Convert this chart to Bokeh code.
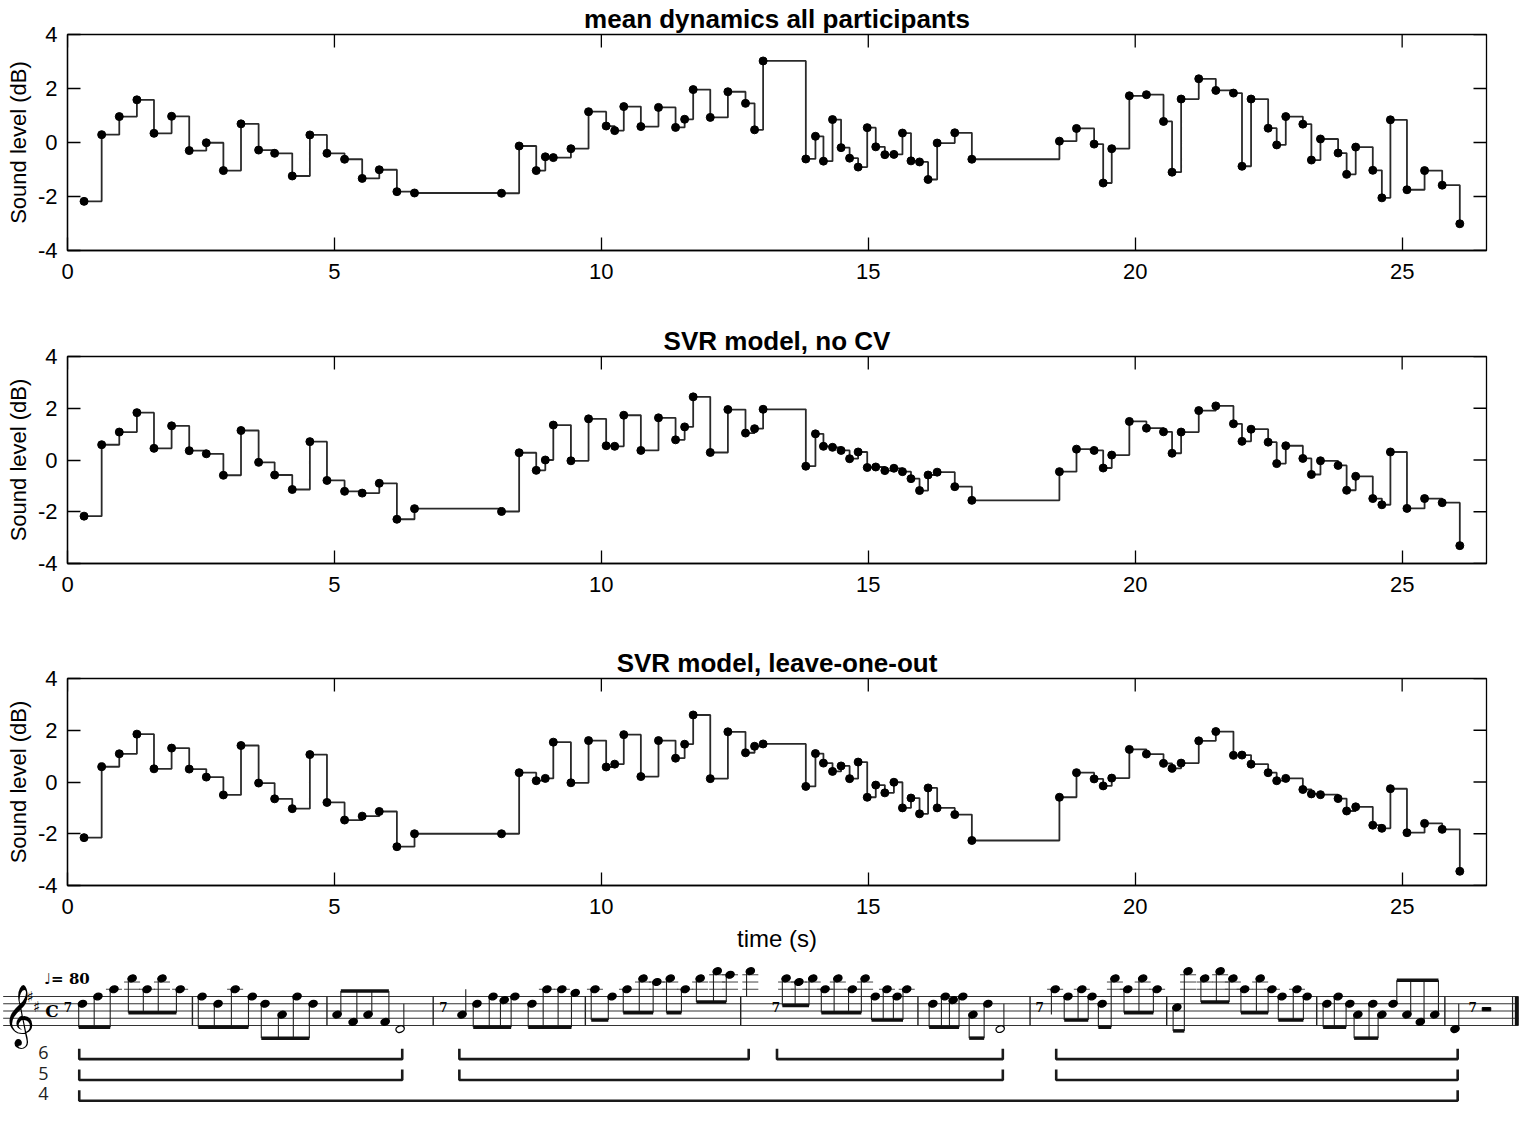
import math
from bokeh.plotting import figure
from bokeh.layouts import column, row
from bokeh.models import Range1d, FixedTicker
from bokeh.embed import file_html
from bokeh.resources import INLINE
from bokeh.core.properties import value

# ---------------- data ----------------
onset = [0.31, 0.64, 0.97, 1.30, 1.62, 1.95, 2.28, 2.60, 2.92, 3.25, 3.58, 3.88, 4.21, 4.54, 4.86, 5.19, 5.52, 5.84, 6.17, 6.50,
         8.13, 8.46, 8.78, 8.95, 9.10, 9.43, 9.76, 10.09, 10.25, 10.42, 10.74, 11.07, 11.39, 11.56, 11.72, 12.04, 12.37, 12.70, 12.87, 13.03,
         13.83, 14.01, 14.16, 14.33, 14.49, 14.65, 14.81, 14.98, 15.14, 15.31, 15.48, 15.64, 15.80, 15.96, 16.12, 16.29, 16.62, 16.94,
         18.58, 18.90, 19.23, 19.40, 19.56, 19.89, 20.21, 20.53, 20.69, 20.86, 21.19, 21.51, 21.84, 22.00, 22.17, 22.49, 22.65, 22.82,
         23.14, 23.30, 23.47, 23.80, 23.96, 24.13, 24.45, 24.62, 24.78, 25.09, 25.42, 25.75, 26.08]

mean_dynamics = [-2.18, 0.29, 0.96, 1.58, 0.34, 0.97, -0.30, -0.01, -1.04, 0.69, -0.28, -0.40, -1.24, 0.28, -0.40, -0.62, -1.33, -1.01, -1.82, -1.87,
                 -1.88, -0.13, -1.04, -0.53, -0.56, -0.23, 1.14, 0.61, 0.44, 1.33, 0.59, 1.30, 0.56, 0.86, 1.96, 0.93, 1.88, 1.45, 0.47, 3.02,
                 -0.61, 0.23, -0.69, 0.85, -0.19, -0.58, -0.91, 0.55, -0.16, -0.45, -0.44, 0.35, -0.68, -0.72, -1.37, -0.02, 0.36, -0.62,
                 0.05, 0.52, -0.06, -1.50, -0.23, 1.73, 1.77, 0.78, -1.10, 1.61, 2.36, 1.93, 1.83, -0.88, 1.61, 0.53, -0.09, 0.96,
                 0.68, -0.65, 0.13, -0.39, -1.18, -0.17, -1.03, -2.05, 0.84, -1.75, -1.04, -1.58, -3.01]

svr_no_cv = [-2.17, 0.59, 1.08, 1.83, 0.45, 1.32, 0.36, 0.24, -0.59, 1.14, -0.09, -0.58, -1.14, 0.71, -0.79, -1.21, -1.28, -0.90, -2.29, -1.88,
             -1.99, 0.28, -0.40, 0.00, 1.35, -0.03, 1.59, 0.55, 0.53, 1.73, 0.37, 1.63, 0.78, 1.28, 2.44, 0.29, 1.95, 1.04, 1.21, 1.96,
             -0.24, 1.01, 0.53, 0.49, 0.37, 0.05, 0.31, -0.29, -0.27, -0.41, -0.32, -0.45, -0.72, -1.18, -0.58, -0.47, -1.03, -1.56,
             -0.45, 0.42, 0.37, -0.31, 0.19, 1.49, 1.23, 1.09, 0.26, 1.08, 1.91, 2.09, 1.40, 0.72, 1.19, 0.69, -0.14, 0.55,
             0.06, -0.56, -0.03, -0.21, -1.17, -0.63, -1.49, -1.73, 0.31, -1.87, -1.49, -1.65, -3.31]

svr_loo = [-2.15, 0.59, 1.09, 1.85, 0.51, 1.31, 0.50, 0.19, -0.50, 1.41, -0.04, -0.65, -1.03, 1.06, -0.79, -1.47, -1.32, -1.14, -2.50, -2.00,
           -2.00, 0.36, 0.05, 0.14, 1.54, -0.03, 1.60, 0.58, 0.69, 1.83, 0.21, 1.60, 0.92, 1.46, 2.59, 0.13, 1.94, 1.13, 1.38, 1.47,
           -0.17, 1.10, 0.73, 0.41, 0.62, 0.13, 0.77, -0.59, -0.12, -0.42, -0.01, -1.00, -0.62, -1.23, -0.23, -1.00, -1.26, -2.26,
           -0.59, 0.36, 0.12, -0.15, 0.15, 1.26, 1.08, 0.72, 0.53, 0.73, 1.59, 1.95, 1.03, 1.04, 0.69, 0.36, 0.05, 0.14,
           -0.29, -0.46, -0.49, -0.64, -1.12, -0.96, -1.67, -1.79, -0.26, -1.96, -1.60, -1.83, -3.45]

panel_titles = ["mean dynamics all participants", "SVR model, no CV", "SVR model, leave-one-out"]
x_ticks = [0, 5, 10, 15, 20, 25]
y_ticks = [-4, -2, 0, 2, 4]
y_tick_labels = ["-4", "-2", "0", "2", "4"]
y_label = "Sound level (dB)"
x_label = "time (s)"

# score strip: note positions on the score (seconds scale), pitch as staff step (0 = E4 bottom line)
score_pos = [0.28, 0.57, 0.87, 1.21, 1.49, 1.77, 2.11,
             2.52, 2.82, 3.14, 3.46, 3.70, 4.02, 4.30, 4.60,
             5.05, 5.35, 5.63, 5.95, 6.23,
             7.39, 7.67, 7.97, 8.18, 8.38, 8.70, 8.98, 9.26, 9.51,
             9.88, 10.20, 10.48, 10.78, 11.04, 11.29, 11.57, 11.85, 12.17, 12.41,
             12.79, 13.46, 13.70, 13.96, 14.19, 14.43, 14.70, 14.94, 15.13, 15.35, 15.54, 15.72,
             16.21, 16.44, 16.59, 16.77, 16.96, 17.24, 17.47,
             18.50, 18.74, 19.00, 19.19, 19.38, 19.62, 19.86, 20.14, 20.41,
             20.78, 20.99, 21.30, 21.59, 21.83, 22.05, 22.34, 22.56, 22.75, 23.03, 23.22,
             23.59, 23.80, 24.02, 24.17, 24.45, 24.62, 24.83, 25.09, 25.34, 25.61,
             25.99]
score_pitch = [6, 8, 10, 13, 10, 13, 10,
               8, 6, 10, 8, 6, 3, 8, 6,
               3, 1, 3, 1, -1,
               3, 6, 8, 7, 8, 6, 10, 10, 9,
               10, 8, 10, 13, 12, 13, 10, 13, 15, 14,
               15, 13, 12, 13, 10, 13, 10, 13, 8, 10, 8, 10,
               6, 8, 7, 8, 3, 6, -1,
               10, 8, 10, 8, 6, 13, 10, 13, 10,
               5, 15, 13, 15, 13, 10, 13, 10, 8, 10, 8,
               6, 8, 6, 3, 6, 3, 6, 3, 1, 3,
               -1]
beam_groups = [[0, 1, 2], [3, 4, 5, 6], [7, 8, 9, 10], [11, 12, 13, 14], [15, 16, 17, 18],
               [21, 22, 23, 24], [25, 26, 27, 28], [29, 30], [31, 32, 33], [34, 35], [36, 37, 38],
               [40, 41, 42], [43, 44, 45, 46], [47, 48, 49, 50], [51, 52, 53, 54], [55, 56],
               [59, 60, 61], [62, 63], [64, 65, 66], [67, 68], [69, 70, 71], [72, 73, 74], [75, 76, 77],
               [78, 79, 80], [81, 82, 83], [84, 85, 86, 87]]
half_notes = [19, 57]
bar_lines = [2.34, 4.86, 6.85, 9.70, 12.61, 15.93, 18.03, 20.59, 23.40, 25.80]
rest_pos = [0.01, 7.04, 13.27, 18.21, 26.32]
tempo_text = "\u2669= 80"

bracket_levels = ["6", "5", "4"]
bracket_start = [[0.22, 7.34, 13.29, 18.52], [0.22, 7.34, 18.52], [0.22]]
bracket_end = [[6.27, 12.76, 17.52, 26.04], [6.27, 17.52, 26.04], [26.04]]

# ---------------- styling / layout ----------------
XMAX = 26.58
FONT = "Liberation Sans"
LINE_C = "#2a2a2a"
W = 1519
LEFT = 67
FRAME_W = 1419
PX_PER_S = FRAME_W / XMAX


def style_axis(ax):
    ax.major_tick_in = 13
    ax.major_tick_out = 0
    ax.minor_tick_line_color = None
    ax.axis_line_color = "black"
    ax.axis_line_width = 1.3
    ax.major_tick_line_color = "black"
    ax.major_tick_line_width = 1.3
    ax.major_label_text_font = FONT
    ax.major_label_text_font_size = "22px"
    ax.major_label_text_color = "black"


def make_panel(title, yvals, height, top, bottom, with_xlabel):
    p = figure(width=W, height=height, x_range=Range1d(0, XMAX), y_range=Range1d(-4, 4),
               output_backend="svg", toolbar_location=None,
               min_border_left=LEFT, min_border_right=W - LEFT - FRAME_W,
               min_border_top=top, min_border_bottom=bottom,
               outline_line_color="black", outline_line_width=1.3)
    p.title.text = title
    p.title.align = "center"
    p.title.text_font = FONT
    p.title.text_font_style = "bold"
    p.title.text_font_size = "26px"
    p.title.text_color = "black"
    p.title.standoff = 2
    p.xgrid.visible = False
    p.ygrid.visible = False

    p.xaxis.ticker = FixedTicker(ticks=x_ticks)
    p.yaxis.ticker = FixedTicker(ticks=y_ticks)
    p.yaxis.major_label_overrides = {t: l for t, l in zip(y_ticks, y_tick_labels)}
    style_axis(p.xaxis[0])
    style_axis(p.yaxis[0])
    p.xaxis.major_label_standoff = 13
    p.yaxis.major_label_standoff = 10
    p.yaxis.axis_label = y_label
    p.yaxis.axis_label_text_font = FONT
    p.yaxis.axis_label_text_font_style = "normal"
    p.yaxis.axis_label_text_font_size = "22px"
    p.yaxis.axis_label_text_color = "black"
    p.yaxis.axis_label_standoff = 4
    if with_xlabel:
        p.xaxis.axis_label = x_label
        p.xaxis.axis_label_text_font = FONT
        p.xaxis.axis_label_text_font_style = "normal"
        p.xaxis.axis_label_text_font_size = "24px"
        p.xaxis.axis_label_text_color = "black"
        p.xaxis.axis_label_standoff = 8

    # inward ticks on the top and right edges of the box (MATLAB style)
    p.ray(x=x_ticks, y=[4] * len(x_ticks), length=13, length_units="screen", angle=-math.pi / 2,
          line_color="black", line_width=1.3)
    p.ray(x=[XMAX] * len(y_ticks), y=y_ticks, length=13, length_units="screen", angle=math.pi,
          line_color="black", line_width=1.3)

    p.step(x=onset, y=yvals, mode="after", line_color=LINE_C, line_width=1.8)
    p.scatter(x=onset, y=yvals, size=8, marker="circle", fill_color="black", line_color="black")
    return p


p1 = make_panel(panel_titles[0], mean_dynamics, 321, 34, 71, False)
p2 = make_panel(panel_titles[1], svr_no_cv, 321, 35, 79, False)
p3 = make_panel(panel_titles[2], svr_loo, 313, 36, 70, True)

# ---------------- score strip ----------------
S_H = 155
STEP_PX = 3.62
S_TOP = 8 + 41 / STEP_PX
S_BOT = S_TOP - S_H / STEP_PX
XL = -LEFT / PX_PER_S
XR = XL + W / PX_PER_S
s = figure(width=W, height=S_H, x_range=Range1d(XL, XR), y_range=Range1d(S_BOT, S_TOP),
           output_backend="svg", toolbar_location=None, min_border=0,
           x_axis_type=None, y_axis_type=None, outline_line_color=None)
s.xgrid.visible = False
s.ygrid.visible = False

staff_lines = [0, 2, 4, 6, 8]
s.multi_line(xs=[[XL + 0.05, XR - 0.02] for _ in staff_lines], ys=[[k, k] for k in staff_lines],
             line_color="#333333", line_width=1.1)
s.segment(x0=bar_lines, y0=[0] * len(bar_lines), x1=bar_lines, y1=[8] * len(bar_lines),
          line_color="#222222", line_width=1.4)
s.segment(x0=[XR - 0.13], y0=[0], x1=[XR - 0.13], y1=[8], line_color="#222222", line_width=1.2)
s.segment(x0=[XR - 0.05], y0=[0], x1=[XR - 0.05], y1=[8], line_color="#111111", line_width=4)

# ledger lines
lx0, lx1, ly = [], [], []
for xp, st in zip(score_pos, score_pitch):
    if st >= 10:
        for l in range(10, st + 1, 2):
            lx0.append(xp - 0.15); lx1.append(xp + 0.15); ly.append(l)
s.segment(x0=lx0, y0=ly, x1=lx1, y1=ly, line_color="#444444", line_width=1.0)

# stems and beams
stem_dir = {}
stem_end = {}
bx0, bx1, by = [], [], []
for g in beam_groups:
    ps = [score_pitch[i] for i in g]
    up = sum(ps) / len(ps) < 4
    yb = max(ps) + 6.5 if up else min(ps) - 6.5
    for i in g:
        stem_dir[i] = up
        stem_end[i] = yb
    xs_g = [score_pos[i] + (0.07 if up else -0.07) for i in g]
    bx0.append(xs_g[0]); bx1.append(xs_g[-1]); by.append(yb)
sx, sy0, sy1 = [], [], []
for i, (xp, st) in enumerate(zip(score_pos, score_pitch)):
    up = stem_dir.get(i, st < 4)
    end = stem_end.get(i, st + 7 if up else st - 7)
    sx.append(xp + 0.07 if up else xp - 0.07)
    sy0.append(st)
    sy1.append(end)
s.segment(x0=sx, y0=sy0, x1=sx, y1=sy1, line_color="#222222", line_width=1.1)
s.segment(x0=bx0, y0=by, x1=bx1, y1=by, line_color="#111111", line_width=3.5)

fills = ["white" if i in half_notes else "black" for i in range(len(score_pos))]
s.ellipse(x=score_pos, y=score_pitch, width=0.16, height=1.8, angle=0.35,
          fill_color=fills, line_color="black", line_width=1.3)

# clef, key signature, time signature, tempo, rests
s.text(x=[XL + 0.04], y=[3.0], text=["\U0001D11E"], text_font=value("DejaVu Sans"), text_font_size="54px",
       text_align="left", text_baseline="middle", text_color="black")
s.text(x=[-0.70, -0.58], y=[8, 5], text=["\u266F", "\u266F"], text_font=value("DejaVu Sans"),
       text_font_size="15px", text_align="center", text_baseline="middle", text_color="black")
s.text(x=[-0.29], y=[4], text=["C"], text_font=value("DejaVu Serif"), text_font_style="bold",
       text_font_size="17px", text_align="center", text_baseline="middle", text_color="black")
s.text(x=[-0.44], y=[12.9], text=[tempo_text], text_font=value("DejaVu Serif"), text_font_style="bold",
       text_font_size="15px", text_align="left", text_baseline="middle", text_color="black")
s.text(x=rest_pos, y=[5] * len(rest_pos), text=["7"] * len(rest_pos), text_font=value("DejaVu Serif"),
       text_font_style="bold", text_font_size="12px", text_align="center", text_baseline="middle",
       text_color="black")
s.rect(x=[26.58], y=[4.5], width=0.16, height=0.9, fill_color="black", line_color="black")

# phrase brackets
bxs, bys = [], []
lab_y = []
for i, (starts, ends) in enumerate(zip(bracket_start, bracket_end)):
    base = -9.3 - 5.75 * i
    lab_y.append(base + 1.9)
    for a, b in zip(starts, ends):
        bxs.append([a, a, b, b])
        bys.append([base + 2.9, base, base, base + 2.9])
s.multi_line(xs=bxs, ys=bys, line_color="#1a1a1a", line_width=2.6)
s.text(x=[-0.45] * len(bracket_levels), y=lab_y, text=bracket_levels, text_font=value("Open Sans"),
       text_font_size="18px", text_align="center", text_baseline="middle", text_color="#222222")

layout = column(column(p1, p2, p3), row(s), spacing=0)
open("out.html", "w").write(file_html(layout, INLINE))
